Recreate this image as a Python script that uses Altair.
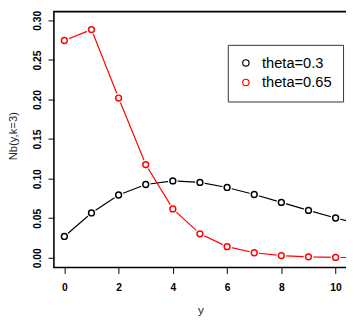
import altair as alt
import pandas as pd

y_vals = list(range(0, 12))
nb_03 = [0.0270, 0.0567, 0.0794, 0.0926, 0.0972, 0.0953, 0.0889, 0.0800, 0.0700, 0.0599, 0.0503, 0.0416]
nb_065 = [0.2746, 0.2884, 0.2019, 0.1178, 0.0618, 0.0303, 0.0141, 0.0064, 0.0028, 0.0012, 0.0005, 0.0002]
series_names = ["theta=0.3", "theta=0.65"]
series_colors = ["#000000", "#FF0000"]
x_ticks = [0, 2, 4, 6, 8, 10]
y_ticks = [0.00, 0.05, 0.10, 0.15, 0.20, 0.25, 0.30]

rows = []
for name, vals in zip(series_names, [nb_03, nb_065]):
    for yv, p in zip(y_vals, vals):
        rows.append({"y": yv, "p": p, "series": name})
df = pd.DataFrame(rows)

FONT = "Liberation Sans"

x_enc = alt.X("y:Q", title="y",
              scale=alt.Scale(domain=[-0.385, 10.42], nice=False, zero=False),
              axis=alt.Axis(values=x_ticks, format="d", titleY=47, titleBaseline="alphabetic"))
y_enc = alt.Y("p:Q", title="Nb(y,k=3)",
              scale=alt.Scale(domain=[-0.01235, 0.3111], nice=False, zero=False),
              axis=alt.Axis(values=y_ticks, format=".2f", labelAngle=270, labelAlign="center",
                            labelBaseline="bottom", labelPadding=6,
                            titleAngle=270, titleX=-38.5, titleY=127, titleAlign="center",
                            titleBaseline="alphabetic", titleFontSize=11.5))
color_scale = alt.Scale(domain=series_names, range=series_colors)

base = alt.Chart(df)

line_layers = [
    base.transform_filter(alt.datum.series == name)
    .mark_line(strokeWidth=1.2, clip=True, color=col)
    .encode(x=x_enc, y=y_enc)
    for name, col in zip(series_names, series_colors)
]
halo = base.mark_point(shape="circle", filled=True, size=100, color="white", opacity=1, clip=True).encode(
    x=x_enc, y=y_enc, detail="series:N",
)
points = base.mark_point(shape="circle", filled=False, size=36, strokeWidth=1.5, opacity=1, clip=True).encode(
    x=x_enc, y=y_enc,
    color=alt.Color("series:N", scale=color_scale,
                    legend=alt.Legend(title=None, orient="none", legendX=178, legendY=34,
                                      labelFontSize=15, labelFont=FONT, labelColor="black",
                                      symbolType="circle", symbolSize=42, symbolStrokeWidth=1.2,
                                      padding=11, rowPadding=4, labelOffset=9,
                                      strokeColor="#333333", fillColor="white")),
)

chart = alt.layer(*line_layers, halo, points).properties(
    width=300, height=262,
    autosize=alt.AutoSizeParams(type="none"),
    padding={"left": 47, "top": 0, "right": -1, "bottom": 52},
).configure_view(
    stroke="black", strokeWidth=1.6
).configure_axis(
    labelFont=FONT, labelFontWeight="bold", labelFontSize=10.5, labelColor="black",
    tickColor="black", tickSize=6, tickWidth=1, domain=False, grid=False,
    titleFont=FONT, titleFontSize=12, titleFontWeight="normal", titleColor="#222222",
    labelPadding=9,
)

chart.save("out.html", embed_options={"renderer": "svg", "actions": False})
